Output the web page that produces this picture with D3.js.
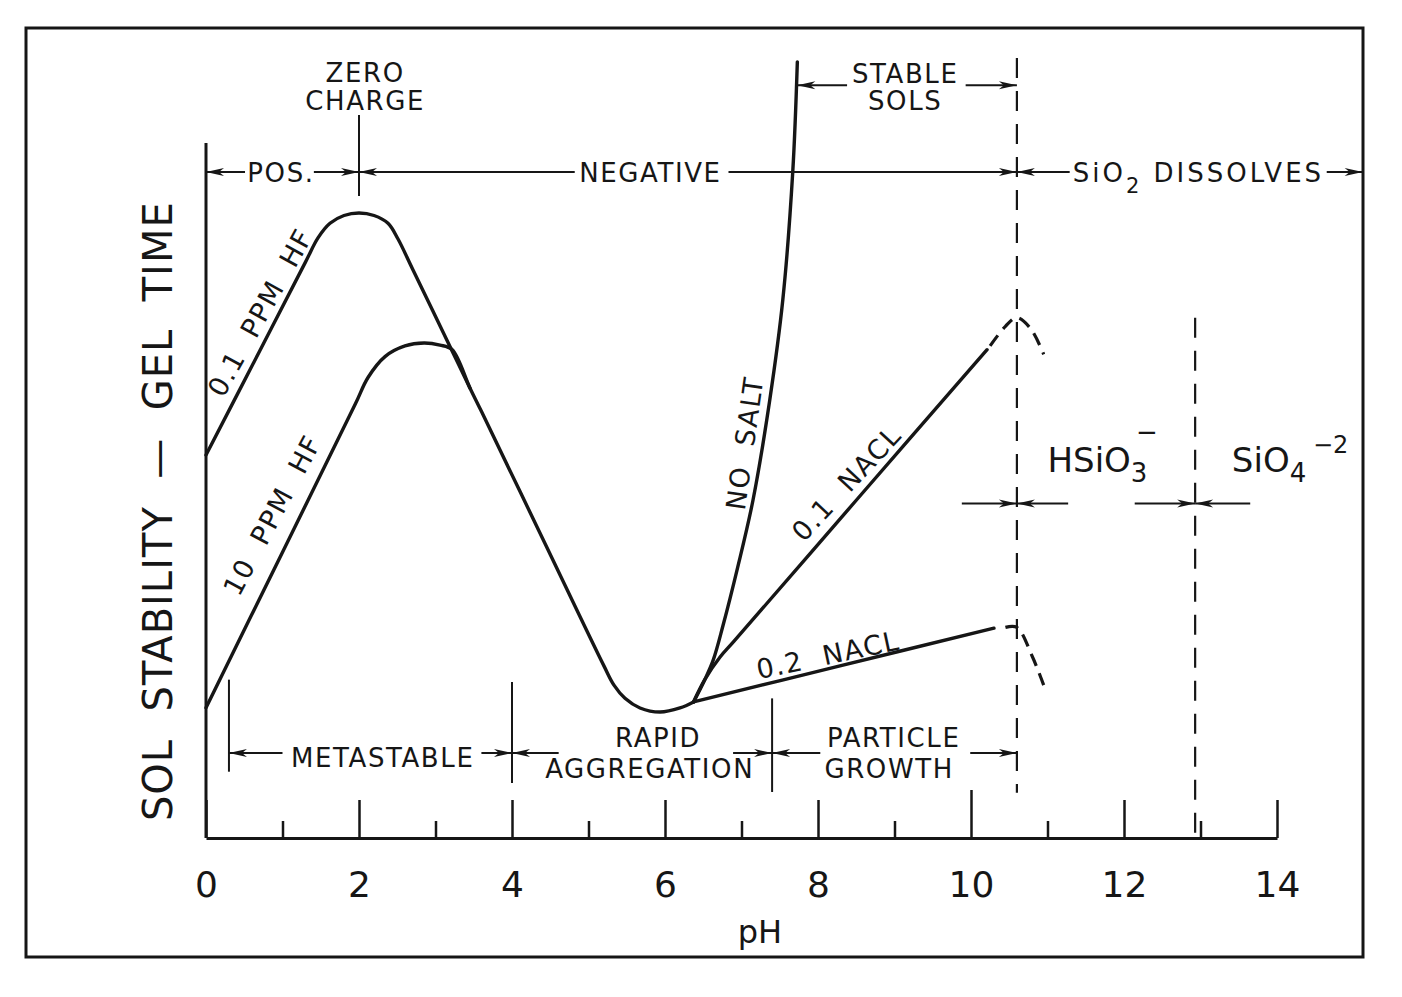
<!DOCTYPE html><html>
<head>
<meta charset="utf-8">
<title>Sol stability vs pH</title>
<style>
  body { margin: 0; background: #fff; }
  svg text { font-family: "DejaVu Sans", sans-serif; fill: #161616; white-space: pre; }
</style>
</head><body>
<svg width="1402" height="997"></svg>

<script src="https://cdn.jsdelivr.net/npm/d3@7"></script>
<script>
// curves: [pH, relative gel time 0..100]
var hf01      = [[0,49.1],[0.7,62.41],[1.3,73.83],[1.464,76.94],[1.621,78.81],[1.804,79.81],[2.0,80.13],
                 [2.196,79.81],[2.379,78.81],[2.51,76.79],[2.7,72.95],[3.2,62.8],[3.45,57.7]];
var hf10      = [[0,16.7],[1.0,36.65],[1.95,55.6],[2.118,59.04],[2.34,61.72],[2.601,63.08],[2.85,63.46],
                 [3.059,63.19],[3.216,62.62],[3.45,57.7],[3.6,54.7],[4.4,38.4],[5.2,22.1],[5.333,19.6],
                 [5.477,17.91],[5.673,16.67],[5.935,16.15],[6.196,16.67],[6.373,17.44]];
var noSalt    = [[6.373,17.44],[6.52,20.3],[6.63,22.8],[6.76,27.3],[6.95,34.7],[7.15,43.3],[7.37,56.2],[7.54,69.0],[7.67,85.4],[7.73,99.5]];
var nacl01    = [[6.373,17.44],[6.52,20.3],[6.72,23.2],[6.9,25.2],[8.5,43.3],[10.21,62.6]];
var nacl01Ext = [[10.25,63.1],[10.45,65.6],[10.6,66.7],[10.78,65.3],[10.95,62.0]];
var nacl02    = [[6.373,17.44],[8.3,22.1],[10.3,26.9]];
var nacl02Ext = [[10.45,27.0],[10.6,27.0],[10.8,23.3],[10.95,19.6]];

var majorTicks = [0,2,4,6,8,10,12,14];
var minorTicks = [1,3,5,7,9,11,13];

// vertical markers: [pH, from, to]
var solidMarks  = [[2,82.3,92.7],[0.3,8.5,20.3],[4,7.05,20],[7.4,5.9,17.9]];
var dashedMarks = [[10.6,100,5.8],[12.93,66.7,0]];

// dimension arrows: [tail pH, tip pH, level]
var arrows = [
  [0.51,0,85.4],[1.41,2,85.4],
  [4.82,2,85.4],[6.83,10.6,85.4],
  [11.29,10.6,85.4],[14.65,15.12,85.4],
  [8.38,7.73,96.5],[9.93,10.6,96.5],
  [1.0,0.3,10.9],[3.6,4,10.9],
  [4.61,4,10.9],[6.89,7.4,10.9],
  [8.03,7.4,10.9],[9.99,10.6,10.9],
  [9.88,10.6,42.9],[11.27,10.6,42.9],
  [12.14,12.93,42.9],[13.65,12.93,42.9]
];

// region labels: [text, pH (centre), level (baseline)]
var regionLabels = [
  ['ZERO',2.08,96.9],['CHARGE',2.08,93.3],
  ['POS.',0.98,84.1],['NEGATIVE',5.81,84.1],
  ['STABLE',9.14,96.8],['SOLS',9.14,93.3],
  ['METASTABLE',2.31,9.1],
  ['RAPID',5.91,11.67],['AGGREGATION',5.80,7.69],
  ['PARTICLE',8.99,11.67],['GROWTH',8.93,7.69]
];

// curve labels: [text, pH, level (centre), angle]
var curveLabels = [
  ['0.1  PPM  HF',0.706,67.4,-61],
  ['10  PPM  HF',0.863,41.4,-62],
  ['NO  SALT',7.04,50.6,-82],
  ['0.1  NACL',8.37,45.5,-47],
  ['0.2  NACL',8.13,23.5,-12]
];

var ink = '#161616';
var svg = d3.select('svg');
var x = d3.scaleLinear().domain([0,14]).range([206,1277]);
var y = d3.scaleLinear().domain([0,100]).range([838,58]);

// frame
svg.append('rect').attr('x',26).attr('y',28).attr('width',1337).attr('height',929)
  .attr('fill','none').attr('stroke',ink).attr('stroke-width',3);

// x axis, ticks pointing up
var ax = svg.append('g').attr('transform','translate(0,' + y(0) + ')')
  .call(d3.axisBottom(x).tickValues(majorTicks).tickSize(-38).tickSizeOuter(0).tickPadding(33).tickFormat(d3.format('d')));
ax.select('.domain').attr('stroke',ink).attr('stroke-width',3);
ax.selectAll('.tick line').attr('stroke',ink).attr('stroke-width',2.5);
ax.selectAll('.tick').filter(function(d) { return d === 10; }).select('line').attr('y2',-48);
ax.selectAll('.tick text').attr('fill',ink).style('font-size','36px').style('font-family','"DejaVu Sans", sans-serif');

var axm = svg.append('g').attr('transform','translate(0,' + y(0) + ')')
  .call(d3.axisBottom(x).tickValues(minorTicks).tickSize(-17).tickSizeOuter(0).tickFormat(''));
axm.select('.domain').remove();
axm.selectAll('.tick line').attr('stroke',ink).attr('stroke-width',2.5);

// left axis line
svg.append('line').attr('x1',x(0)).attr('x2',x(0)).attr('y1',y(0)).attr('y2',y(89.1))
  .attr('stroke',ink).attr('stroke-width',3);

svg.append('text').attr('x',x(7.24)).attr('y',y(-13.46)).attr('text-anchor','middle')
  .style('font-size','32px').text('pH');

svg.append('text').attr('transform','translate(' + x(-0.63) + ',' + y(41.9) + ') rotate(-90)')
  .attr('text-anchor','middle').attr('dy','0.36em')
  .style('font-size','40px').style('letter-spacing','1px')
  .text('SOL  STABILITY  \u2014  GEL  TIME');

// vertical markers
svg.selectAll('line.mark').data(solidMarks).enter().append('line').attr('class','mark')
  .attr('x1',function(d) { return x(d[0]); }).attr('x2',function(d) { return x(d[0]); })
  .attr('y1',function(d) { return y(d[1]); }).attr('y2',function(d) { return y(d[2]); })
  .attr('stroke',ink).attr('stroke-width',2);
svg.selectAll('line.dmark').data(dashedMarks).enter().append('line').attr('class','dmark')
  .attr('x1',function(d) { return x(d[0]); }).attr('x2',function(d) { return x(d[0]); })
  .attr('y1',function(d) { return y(d[1]); }).attr('y2',function(d) { return y(d[2]); })
  .attr('stroke',ink).attr('stroke-width',2.2).attr('stroke-dasharray','20,13');

// curves
var line = d3.line().x(function(d) { return x(d[0]); }).y(function(d) { return y(d[1]); })
  .curve(d3.curveCatmullRom.alpha(0.5));
[hf01, hf10, noSalt, nacl01, nacl02].forEach(function(s) {
  svg.append('path').datum(s).attr('d',line).attr('fill','none')
    .attr('stroke',ink).attr('stroke-width',3.4).attr('stroke-linecap','round');
});
[nacl01Ext, nacl02Ext].forEach(function(s) {
  svg.append('path').datum(s).attr('d',line).attr('fill','none')
    .attr('stroke',ink).attr('stroke-width',3.2).attr('stroke-dasharray','13,8');
});

// arrows
arrows.forEach(function(a) {
  var x0 = x(a[0]), x1 = x(a[1]), yy = y(a[2]), dir = x1 > x0 ? 1 : -1;
  svg.append('line').attr('x1',x0).attr('x2',x1).attr('y1',yy).attr('y2',yy)
    .attr('stroke',ink).attr('stroke-width',2);
  svg.append('path')
    .attr('d','M' + x1 + ',' + yy + 'L' + (x1 - dir * 18) + ',' + (yy - 4) + 'L' + (x1 - dir * 13) + ',' + yy +
              'L' + (x1 - dir * 18) + ',' + (yy + 4) + 'Z')
    .attr('fill',ink);
});

// labels
svg.selectAll('text.region').data(regionLabels).enter().append('text').attr('class','region')
  .attr('x',function(d) { return x(d[1]); }).attr('y',function(d) { return y(d[2]); })
  .attr('text-anchor','middle').style('font-size','26px').style('letter-spacing','1.6px')
  .text(function(d) { return d[0]; });

svg.selectAll('text.curve').data(curveLabels).enter().append('text').attr('class','curve')
  .attr('transform',function(d) { return 'translate(' + x(d[1]) + ',' + y(d[2]) + ') rotate(' + d[3] + ')'; })
  .attr('text-anchor','middle').attr('dy','0.36em')
  .style('font-size','27px').style('letter-spacing','1.5px')
  .text(function(d) { return d[0]; });

var t = svg.append('text').attr('x',x(11.33)).attr('y',y(84.1)).style('font-size','26px').style('letter-spacing','3px');
t.append('tspan').text('SiO');
t.append('tspan').attr('dy',11).style('font-size','21px').text('2');
t.append('tspan').attr('dy',-11).text(' DISSOLVES');

var h = svg.append('text').attr('x',x(11.0)).attr('y',y(46.9)).style('font-size','34px');
h.append('tspan').text('HSiO');
h.append('tspan').attr('dy',10).style('font-size','26px').text('3');
svg.append('text').attr('x',x(12.3)).attr('y',y(50.9)).attr('text-anchor','middle')
  .style('font-size','26px').text('\u2212');

var s = svg.append('text').attr('x',x(13.41)).attr('y',y(46.9)).style('font-size','34px');
s.append('tspan').text('SiO');
s.append('tspan').attr('dy',10).style('font-size','26px').text('4');
svg.append('text').attr('x',x(14.47)).attr('y',y(49.4)).style('font-size','24px').text('\u22122');
</script>
</body></html>
